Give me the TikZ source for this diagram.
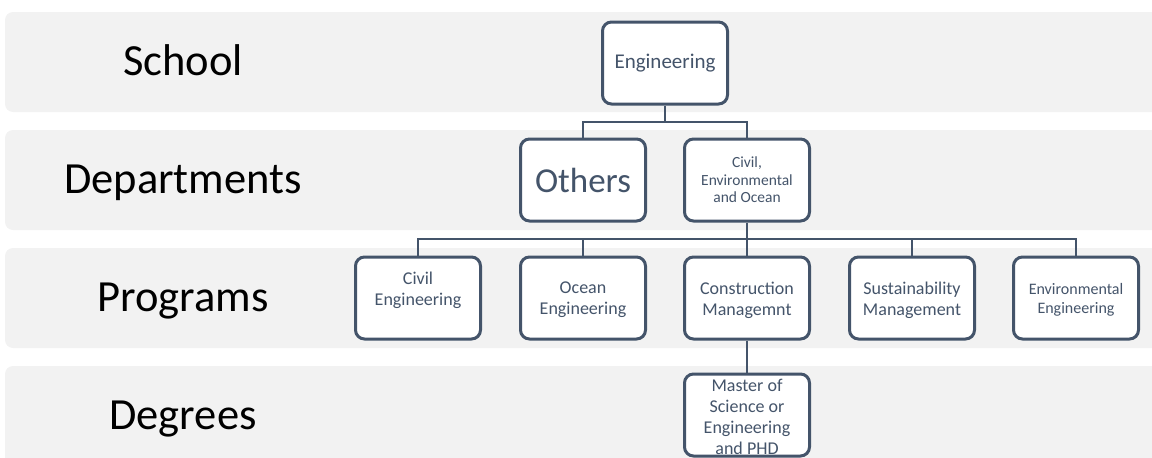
\documentclass[tikz,border=0pt]{standalone}
\usepackage{fontspec}
\setmainfont{Carlito}
\definecolor{slate}{HTML}{44546A}
\definecolor{bandgray}{HTML}{F2F2F2}
\begin{document}
\begin{tikzpicture}[x=1pt,y=-1pt,
  band/.style={fill=bandgray, draw=none, rounded corners=8pt},
  lvl/.style={anchor=base, text=black, font=\fontsize{44.5}{50}\selectfont},
  box/.style={draw=slate, line width=3pt, rounded corners=9pt, fill=white,
    minimum width=125pt, minimum height=82pt, inner sep=0pt, align=center,
    text=slate, font=\fontsize{18}{21}\selectfont},
  boxtext/.style={inner sep=0pt, align=center, text=slate, font=\fontsize{18}{21}\selectfont},
  conn/.style={draw=slate, line width=2.2pt}]
\useasboundingbox (0,0) rectangle (1152,458);
% bands
\fill[band] (5,12) rectangle (1165,112);
\fill[band] (5,130) rectangle (1165,230);
\fill[band] (5,248) rectangle (1165,348);
\fill[band] (5,366) rectangle (1165,475);
% level labels
\node[lvl] (lschool) at (183,75) {School};
\node[lvl] (ldept) at (183,193) {Departments};
\node[lvl] (lprog) at (183,311) {Programs};
\node[lvl] (ldeg) at (183,429) {Degrees};
% boxes
\node[box, font=\fontsize{21}{24}\selectfont] (eng) at (665,63) {Engineering};
\node[box, font=\fontsize{35}{40}\selectfont] (others) at (583,180) {Others};
\node[box, font=\fontsize{15.5}{17.5}\selectfont] (ceo) at (747,180) {Civil,\\Environmental\\and Ocean};
\node[box] (p1) at (418,298) {};
\node[boxtext] (p1t) at (418,290) {Civil\\Engineering};
\node[box] (p2) at (583,298) {};
\node[boxtext] (p2t) at (583,300) {Ocean\\Engineering};
\node[box] (p3) at (747,298) {};
\node[boxtext] (p3t) at (747,300) {Construction\\Managemnt};
\node[box] (p4) at (912,298) {};
\node[boxtext] (p4t) at (912,300) {Sustainability\\Management};
\node[box] (p5) at (1076,298) {};
\node[boxtext, font=\fontsize{16}{18.5}\selectfont] (p5t) at (1076,300) {Environmental\\Engineering};
\node[box] (deg) at (747,415) {};
\node[boxtext, font=\fontsize{18}{21}\selectfont] (degt) at (747,417) {Master of\\Science or\\Engineering\\and PHD};
% junctions
\coordinate (j1) at (665,122);
\coordinate (j2) at (747,239);
% connectors
\draw[conn] (eng.south) -- (j1);
\draw[conn] (others.north) |- (j1) -| (ceo.north);
\draw[conn] (ceo.south) -- (p3.north);
\draw[conn] (p1.north) |- (j2) -| (p5.north);
\draw[conn] (p2.north) -- (p2.north |- j2);
\draw[conn] (p4.north) -- (p4.north |- j2);
\draw[conn] (p3.south) -- (deg.north);
\end{tikzpicture}
\end{document}
